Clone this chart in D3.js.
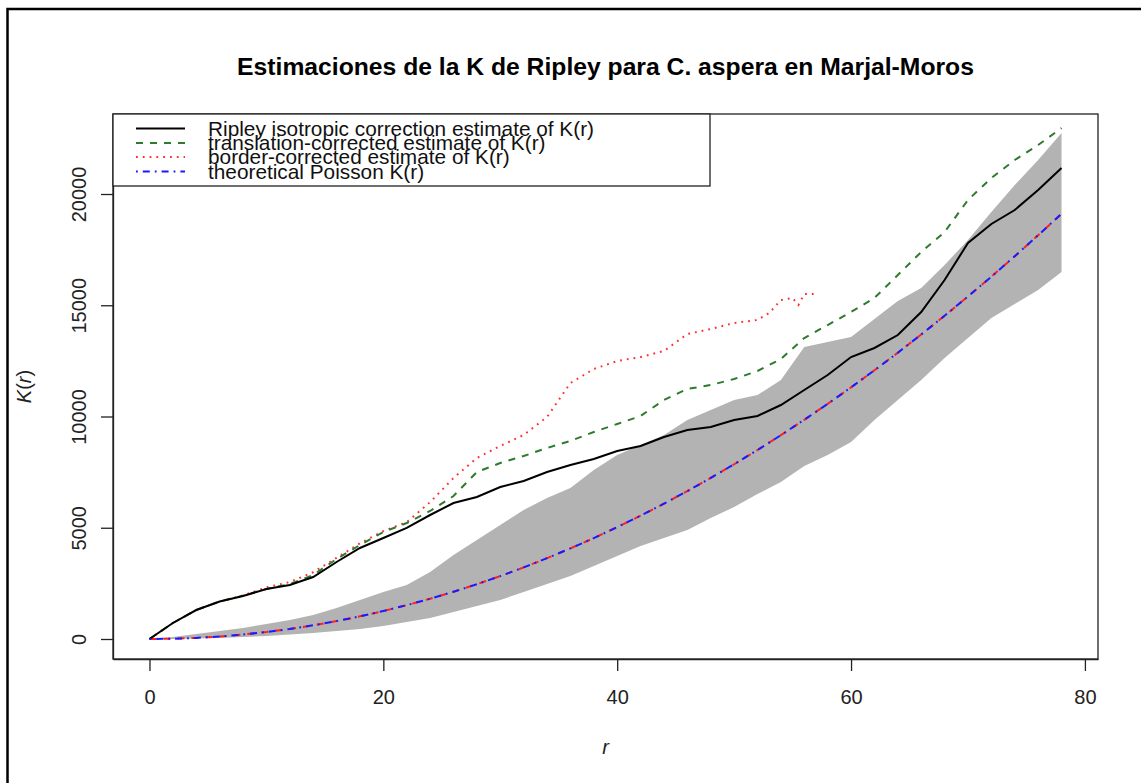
<!DOCTYPE html>
<html>
<head>
<meta charset="utf-8">
<script src="https://cdn.jsdelivr.net/npm/d3@7"></script>
<style>
  html, body { margin: 0; padding: 0; background: #fff; }
  svg { display: block; font-family: "Liberation Sans", Arial, Helvetica, sans-serif; }
</style>
</head>
<body>
<svg id="chart" width="1141" height="783"></svg>
<script>
// ---------- data ----------
const title = "Estimaciones de la K de Ripley para C. aspera en Marjal-Moros";
const rValues = [0,2,4,6,8,10,12,14,16,18,20,22,24,26,28,30,32,34,36,38,40,42,44,46,48,50,52,54,56,58,60,62,64,66,68,70,72,74,76,78];
const isoValues = [0,719,1303,1685,1933,2247,2427,2787,3461,4090,4539,4990,5573,6112,6382,6831,7101,7506,7820,8090,8449,8674,9079,9393,9528,9843,10022,10517,11191,11865,12674,13079,13663,14697,16135,17798,18652,19281,20180,21169];
const transValues = [0,719,1303,1685,1950,2250,2470,2876,3596,4225,4809,5213,5753,6427,7506,7910,8225,8584,8899,9303,9663,10022,10742,11236,11416,11685,12045,12584,13528,14112,14697,15326,16360,17393,18292,19730,20719,21528,22202,22966];
const theoValues = [0,13,50,113,201,314,452,616,804,1018,1257,1521,1810,2124,2463,2827,3217,3632,4072,4536,5027,5542,6082,6648,7238,7854,8495,9161,9852,10568,11310,12076,12868,13685,14527,15394,16286,17203,18146,19113];
const hiValues = [0,90,225,360,495,674,854,1079,1393,1753,2112,2427,3011,3775,4449,5124,5798,6337,6787,7596,8270,8719,9169,9843,10292,10742,10966,11640,13124,13348,13573,14382,15191,15775,16809,17933,19191,20404,21528,22742];
const loValues = [0,0,22,45,90,135,202,270,360,449,584,764,944,1213,1483,1753,2112,2472,2831,3281,3730,4180,4539,4899,5438,5933,6517,7056,7775,8270,8854,9843,10742,11640,12629,13528,14427,15056,15685,16494];
const borderR = [0,2,4,6,8,10,12,14,16,18,20,22,24,26,28,30,32,34,36,38,40,42,44,46,48,50,52,53,54,55,55.5,56,57];
const borderValues = [0,719,1303,1685,1960,2320,2560,3000,3650,4300,4850,5250,6150,7236,8135,8674,9169,9978,11506,12135,12494,12674,12944,13708,13933,14202,14337,14652,15236,15326,15011,15506,15506];
const xTicks = [0,20,40,60,80];
const yTicks = [0,5000,10000,15000,20000];
const legendLabels = [
  "Ripley isotropic correction estimate of K(r)",
  "translation-corrected estimate of K(r)",
  "border-corrected estimate of K(r)",
  "theoretical Poisson K(r)"
];

// ---------- layout ----------
const svg = d3.select("#chart");
const box = {left: 113, right: 1098, top: 114, bottom: 659};
const x = d3.scaleLinear().domain([-3.12, 81.12]).range([box.left, box.right]);
const y = d3.scaleLinear().domain([-899, 23596]).range([box.bottom, box.top]);
const axisColor = "#222";
const fontFam = "Liberation Sans, Arial, sans-serif";

// outer frame
svg.append("rect").attr("x", 7.5).attr("y", 9).attr("width", 1300).attr("height", 1000)
  .attr("fill", "none").attr("stroke", "#000").attr("stroke-width", 2.5);

// title
svg.append("text").attr("x", (box.left + box.right) / 2).attr("y", 75)
  .attr("text-anchor", "middle").attr("font-weight", "bold").attr("font-size", 24.7)
  .attr("fill", "#000").text(title);

const g = svg.append("g");
svg.append("clipPath").attr("id", "clip").append("rect")
  .attr("x", box.left).attr("y", box.top).attr("width", box.right - box.left).attr("height", box.bottom - box.top);
const pg = g.append("g").attr("clip-path", "url(#clip)");

// envelope
const env = rValues.map((r, i) => ({r, lo: loValues[i], hi: hiValues[i]}));
pg.append("path").datum(env)
  .attr("d", d3.area().x(d => x(d.r)).y0(d => y(d.lo)).y1(d => y(d.hi)))
  .attr("fill", "#b3b3b3").attr("stroke", "none");

const line = d3.line().x(d => x(d[0])).y(d => y(d[1]));
function series(rs, vs) { return rs.map((r, i) => [r, vs[i]]); }

// theoretical: red dashed underneath, blue dot-dash on top
pg.append("path").datum(series(rValues, theoValues)).attr("d", line)
  .attr("fill", "none").attr("stroke", "#ff2020").attr("stroke-width", 2).attr("stroke-dasharray", "7,7");
pg.append("path").datum(series(borderR, borderValues)).attr("d", line)
  .attr("fill", "none").attr("stroke", "#ff3030").attr("stroke-width", 2).attr("stroke-dasharray", "1.8,5");
pg.append("path").datum(series(rValues, transValues)).attr("d", line)
  .attr("fill", "none").attr("stroke", "#2e7a2e").attr("stroke-width", 2).attr("stroke-dasharray", "7,7");
pg.append("path").datum(series(rValues, isoValues)).attr("d", line)
  .attr("fill", "none").attr("stroke", "#000").attr("stroke-width", 2);
pg.append("path").datum(series(rValues, theoValues)).attr("d", line)
  .attr("fill", "none").attr("stroke", "#1a1aff").attr("stroke-width", 2).attr("stroke-dasharray", "1.8,5,7,5");

// box
svg.append("rect").attr("x", box.left).attr("y", box.top)
  .attr("width", box.right - box.left).attr("height", box.bottom - box.top)
  .attr("fill", "none").attr("stroke", axisColor).attr("stroke-width", 1.3);

// x axis
const xa = svg.append("g").attr("transform", `translate(0,${box.bottom})`)
  .call(d3.axisBottom(x).tickValues(xTicks).tickSize(12).tickSizeOuter(0).tickFormat(d3.format("d")));
xa.select(".domain").attr("stroke", axisColor).attr("stroke-width", 1.3);
xa.selectAll(".tick line").attr("stroke", axisColor).attr("stroke-width", 1.3);
xa.selectAll(".tick text").attr("font-size", 20).attr("fill", axisColor).attr("font-family", fontFam)
  .attr("y", 45).attr("dy", null);

// y axis
const ya = svg.append("g").attr("transform", `translate(${box.left},0)`)
  .call(d3.axisLeft(y).tickValues(yTicks).tickSize(12).tickSizeOuter(0).tickFormat(d3.format("d")));
ya.select(".domain").attr("stroke", axisColor).attr("stroke-width", 1.3);
ya.selectAll(".tick line").attr("stroke", axisColor).attr("stroke-width", 1.3);
ya.selectAll(".tick text")
  .attr("font-size", 20).attr("fill", axisColor).attr("font-family", fontFam)
  .attr("x", null).attr("dy", null).attr("text-anchor", "middle")
  .attr("transform", "translate(-27,0) rotate(-90)");

// axis labels
svg.append("text").attr("x", (box.left + box.right) / 2).attr("y", 754)
  .attr("text-anchor", "middle").attr("font-size", 20).attr("font-style", "italic").attr("fill", axisColor).text("r");
const yl = svg.append("text").attr("transform", `translate(31,${(box.top + box.bottom) / 2}) rotate(-90)`)
  .attr("text-anchor", "middle").attr("font-size", 20).attr("fill", axisColor);
yl.append("tspan").attr("font-style", "italic").text("K");
yl.append("tspan").text("(");
yl.append("tspan").attr("font-style", "italic").text("r");
yl.append("tspan").text(")");

// legend
const lg = svg.append("g");
lg.append("rect").attr("x", box.left).attr("y", box.top).attr("width", 597).attr("height", 72)
  .attr("fill", "#fff").attr("stroke", axisColor).attr("stroke-width", 1.3);
const legStyles = [
  {stroke: "#000", dash: null},
  {stroke: "#2e7a2e", dash: "7,7"},
  {stroke: "#ff3030", dash: "1.8,5"},
  {stroke: "#1a1aff", dash: "1.8,5,7,5"}
];
const legY = [128.5, 143, 157, 171.5];
legendLabels.forEach((lab, i) => {
  lg.append("line").attr("x1", 136).attr("x2", 185).attr("y1", legY[i]).attr("y2", legY[i])
    .attr("stroke", legStyles[i].stroke).attr("stroke-width", 2)
    .attr("stroke-dasharray", legStyles[i].dash);
  lg.append("text").attr("x", 208).attr("y", legY[i] + 7).attr("font-size", 20.8)
    .attr("fill", "#111").text(lab);
});
</script>
</body>
</html>
